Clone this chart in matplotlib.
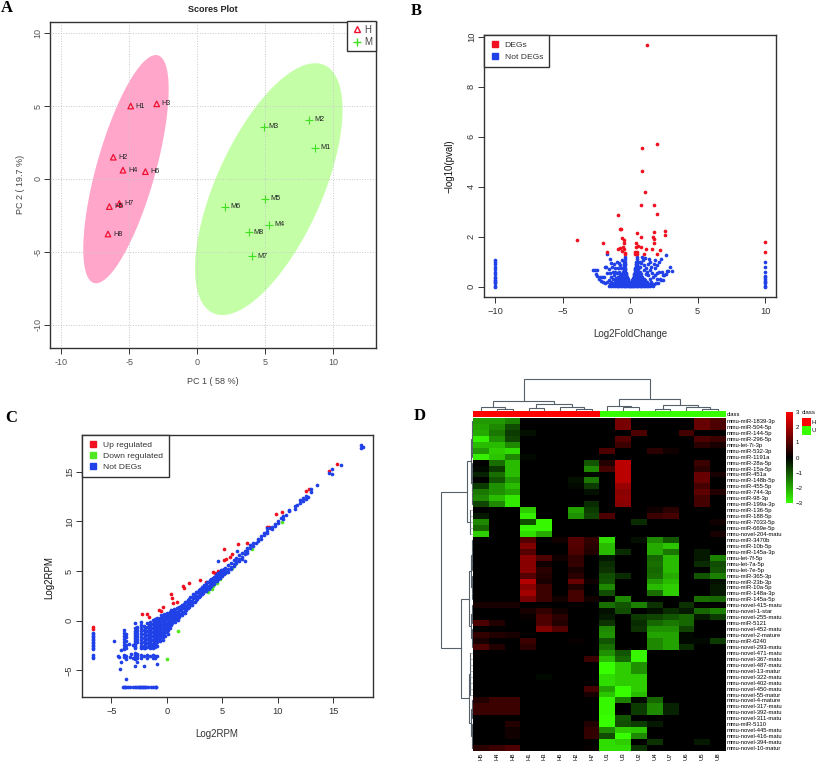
import matplotlib

matplotlib.use("Agg")
import matplotlib.pyplot as plt
import numpy as np
from matplotlib.colors import LinearSegmentedColormap
from matplotlib.lines import Line2D
from matplotlib.patches import Rectangle

plt.rcParams["font.family"] = ["Liberation Sans", "DejaVu Sans"]

FIG_W = 817
FIG_H = 761
AXIS_COLOR = "#333333"

# panel A
H_NAMES = ["H1", "H2", "H3", "H4", "H5", "H6", "H7", "H8"]
H_X = [-4.9, -6.18, -2.99, -5.47, -6.47, -3.82, -5.74, -6.57]
H_Y = [5.0, 1.49, 5.15, 0.6, -1.9, 0.5, -1.69, -3.78]
M_NAMES = ["M1", "M2", "M3", "M4", "M5", "M6", "M7", "M8"]
M_X = [8.65, 8.24, 4.88, 5.29, 5.0, 2.06, 4.04, 3.77]
M_Y = [2.15, 4.07, 3.57, -3.16, -1.37, -1.9, -5.29, -3.66]
# centre x, centre y, half width, half height, correlation
H_ELLIPSE = [-5.25, 0.67, 3.14, 7.83, 0.70]
M_ELLIPSE = [5.25, -0.7, 5.42, 8.64, 0.63]

# panel B
VOLCANO_RED = [
    (1.24, 9.67), (2.0, 5.71), (0.84, 5.56), (0.87, 4.61), (1.06, 3.8), (0.77, 3.25), (1.73, 3.25),
    (1.98, 2.92), (-0.92, 2.87), (-0.79, 2.29), (-0.69, 2.29), (0.47, 2.15), (1.76, 2.19), (2.6, 2.24),
    (2.57, 2.08), (0.77, 1.97), (1.71, 1.97), (1.73, 1.92), (-3.94, 1.85), (-2.0, 1.76), (-0.62, 1.93),
    (-0.5, 1.85), (1.78, 1.76), (0.42, 1.73), (10, 1.79), (10, 1.39), (-1.73, 1.37), (-0.5, 1.73),
    (0.54, 1.64), (0.79, 1.59), (0.4, 1.57), (-0.52, 1.6), (-0.77, 1.53), (-0.89, 1.52), (-0.47, 1.52),
    (1.19, 1.52), (1.58, 1.49), (2.23, 1.47), (-0.64, 1.44), (-0.42, 1.36), (0.35, 1.4), (0.52, 1.37),
    (1.96, 1.29), (0.99, 1.29), (0.35, 1.31), (0.52, 1.31), (-0.4, 1.29),
]
VOLCANO_CORE = {
    0.02: [-1.6, -1.45, -1.3, -1.15, -1.0, -0.9, -0.8, -0.7, -0.6, -0.5, -0.4, -0.3, -0.2, -0.1, -0.03, 0.03, 0.1,
           0.2, 0.3, 0.4, 0.5, 0.6, 0.7, 0.8, 0.9, 1.0, 1.1, 1.25, 1.35, 1.5, 1.65],
    0.06: [-1.35, -1.2, -1.05, -0.9, -0.75, -0.6, -0.45, -0.3, -0.15, -0.05, 0.05, 0.15, 0.3, 0.45, 0.6, 0.75, 0.9,
           1.05, 1.2, 1.4, 1.55],
    0.1: [-1.3, -1.1, -0.95, -0.85, -0.75, -0.65, -0.55, -0.45, -0.35, -0.25, -0.15, -0.07, 0.07, 0.15, 0.25, 0.35,
          0.45, 0.55, 0.65, 0.75, 0.85, 0.95, 1.1, 1.3, 1.5],
    0.15: [-1.2, -1.0, -0.8, -0.65, -0.5, -0.38, -0.27, -0.18, -0.1, 0.1, 0.18, 0.27, 0.38, 0.5, 0.65, 0.8, 1.0, 1.25],
    0.2: [-1.1, -0.9, -0.8, -0.7, -0.6, -0.5, -0.4, -0.3, -0.2, -0.13, 0.13, 0.2, 0.3, 0.4, 0.5, 0.6, 0.7, 0.8, 0.95,
          1.1, 1.25],
    0.25: [-1.05, -0.85, -0.68, -0.55, -0.42, -0.32, -0.24, -0.16, 0.16, 0.24, 0.32, 0.42, 0.55, 0.68, 0.85, 1.1],
    0.3: [-1.0, -0.8, -0.65, -0.55, -0.45, -0.35, -0.27, -0.2, 0.2, 0.27, 0.35, 0.45, 0.55, 0.7, 0.9, 1.05],
    0.35: [-0.85, -0.6, -0.47, -0.38, -0.3, -0.23, 0.23, 0.3, 0.38, 0.47, 0.6, 0.8],
    0.4: [-0.9, -0.6, -0.5, -0.42, -0.35, -0.27, 0.27, 0.35, 0.42, 0.5, 0.65, 0.85],
    0.45: [-0.55, -0.45, -0.37, -0.3, 0.29, 0.36, 0.44, 0.55, 0.72],
    0.5: [-0.7, -0.5, -0.42, -0.35, 0.3, 0.38, 0.45, 0.55, 0.8],
    0.55: [-0.5, -0.42, -0.35, 0.32, 0.4, 0.48, 0.62],
    0.6: [-0.55, -0.45, -0.38, 0.33, 0.4, 0.5, 0.7],
    0.65: [-0.48, -0.4, 0.35, 0.43, 0.52],
    0.7: [-0.5, -0.42, 0.37, 0.45, 0.6],
    0.75: [-0.47, -0.4, 0.38, 0.46],
    0.8: [-0.5, -0.45, 0.4, 0.5, 0.65],
    0.85: [-0.46, -0.41, 0.42, 0.48],
    0.9: [-0.48, -0.42, 0.43, 0.5],
    1.0: [-0.45, -0.4, 0.45, 0.55],
    1.1: [-0.42, 0.5],
    1.2: [-0.42, 0.48],
}
VOLCANO_SCATTER = [
    (-2.75, 0.65), (-2.65, 0.65), (-2.55, 0.5), (-2.45, 0.65), (-2.5, 0.42), (-2.35, 0.3), (-2.25, 0.38),
    (-2.1, 0.38), (-2.0, 0.2), (-2.2, 0.22), (-1.95, 0.38), (-1.9, 0.78), (-1.8, 0.78), (-1.7, 0.55),
    (-1.6, 0.25), (-1.5, 0.12), (-1.7, 0.18), (-1.45, 0.4), (-1.5, 1.1), (-1.45, 0.95), (-1.35, 0.8),
    (-1.3, 0.6), (-1.7, 1.3), (-1.55, 0.7), (-1.2, 0.45), (-1.1, 0.75), (-1.2, 0.9), (-1.0, 1.0),
    (-0.95, 0.55), (-0.8, 0.95), (-0.7, 0.75), (-0.6, 1.05), (-1.3, 0.3), (-1.4, 0.2), (-1.1, 0.6),
    (-0.85, 0.6), (-0.75, 0.45), (2.98, 0.77), (3.1, 0.62), (2.8, 0.62), (2.7, 0.62), (2.62, 0.5),
    (2.5, 0.45), (2.4, 0.45), (2.45, 0.28), (2.3, 0.28), (2.2, 0.3), (2.65, 1.25), (2.25, 1.1), (2.15, 1.0),
    (2.0, 0.85), (1.95, 0.55), (1.85, 0.75), (1.8, 1.05), (1.75, 0.9), (1.7, 0.4), (1.6, 0.55), (1.55, 0.8),
    (1.5, 1.0), (1.4, 1.1), (1.3, 0.9), (1.2, 0.75), (1.1, 1.15), (1.05, 0.65), (0.95, 1.05), (0.85, 1.2),
    (0.75, 0.8), (1.35, 0.45), (1.9, 0.15), (2.05, 0.15), (1.75, 0.12), (1.55, 0.2), (1.45, 0.3), (1.15, 0.5),
    (1.95, 0.3), (1.6, 0.12), (0.7, 1.0), (0.8, 0.95), (1.0, 0.85), (1.25, 0.6), (-0.75, 0.85), (-0.9, 0.75),
    (-1.05, 0.35), (-1.5, 0.55), (-1.85, 0.15), (1.85, 0.45), (1.5, 0.65), (2.1, 0.6), (2.35, 0.6),
]
VOLCANO_LEFT_Y = [0, 0.03, 0.13, 0.18, 0.22, 0.28, 0.33, 0.38, 0.5, 0.6, 0.7, 0.8, 0.9, 1.0, 1.05]
VOLCANO_RIGHT_Y = [0, 0.02, 0.13, 0.18, 0.22, 0.3, 0.38, 0.42, 0.6, 0.8, 1.0]

# panel C
RPM_RED = [
    (-6.65, -0.6), (-6.65, -0.8), (-2.28, 0.64), (-1.83, 0.7), (-1.62, 0.37), (-0.75, 1.04), (-0.54, 0.97),
    (-0.33, 1.38), (0.33, 2.68), (0.48, 2.25), (0.57, 1.81), (0.9, 1.91), (1.41, 3.49), (1.56, 3.29),
    (1.98, 3.79), (3.0, 4.09), (3.48, 3.93), (4.17, 4.93), (4.32, 4.77), (4.62, 5.03), (5.17, 7.25),
    (5.17, 6.07), (5.35, 6.17), (5.71, 6.38), (5.89, 6.68), (6.37, 7.68), (7.24, 7.82), (8.98, 9.46),
    (9.22, 9.46), (9.85, 10.77), (10.39, 10.94), (12.49, 13.05), (12.79, 13.29), (14.62, 15.03), (15.29, 15.77),
]
RPM_GREEN = [
    (0.96, -1.04), (0.03, -3.83), (3.66, 2.85), (4.05, 3.15), (4.17, 3.49), (4.53, 3.83), (4.77, 4.23),
    (5.37, 4.93), (5.83, 5.27), (6.13, 5.67), (7.69, 7.21), (10.39, 9.93),
]
RPM_COLUMNS = {
    -6.65: [-1.2, -1.35, -1.5, -1.65, -1.8, -1.95, -2.1, -2.25, -2.4, -2.55, -2.7, -2.85, -3.5, -3.65, -3.8],
    -3.85: [-0.9, -1.2, -1.5, -1.8, -2.1, -2.4, -2.7, -2.9, -3.5, -3.7],
    -3.7: [-1.3, -1.6, -2.0, -2.4, -2.8, -3.6, -3.9, -5.9],
    -2.85: [-0.2, -0.7, -1.0, -1.2, -1.4, -1.6, -1.8, -2.0, -2.2, -2.4, -2.6, -2.8, -3.3, -3.5, -3.7, -3.85, -4.6],
    -2.7: [-0.6, -0.9, -1.2, -1.5, -1.8, -2.1, -3.4, -3.6, -3.8, -4.2],
    -2.3: [-0.1, -0.4, -0.7, -1.0, -1.3, -1.6, -1.9, -2.2, -2.5, -2.8, -3.5, -3.8],
    -2.1: [-0.5, -0.9, -1.3, -1.7, -2.1, -2.5, -2.8, -3.6, -4.6],
    -1.95: [-0.7, -1.1, -1.5, -1.9, -2.3, -2.7],
    -1.8: [-0.2, -0.6, -1.0, -1.4, -1.8, -2.2, -2.6, -3.5, -3.8],
    -1.65: [-0.4, -0.8, -1.2, -1.6, -2.0, -2.4],
    -1.55: [-0.1, -0.5, -0.9, -1.3, -1.7, -2.1, -2.5, -2.8, -3.6],
    -1.42: [-0.3, -0.7, -1.1, -1.5, -1.9, -2.3, -2.6],
    -1.3: [0.1, -0.3, -0.7, -1.1, -1.5, -1.9, -2.3, -2.7, -3.5, -3.8],
    -1.2: [-0.1, -0.5, -0.9, -1.3, -1.7, -2.1, -2.5],
    -1.1: [0.2, -0.2, -0.6, -1.0, -1.4, -1.8, -2.2, -2.6, -3.6, -3.8],
    -1.0: [0.0, -0.4, -0.8, -1.2, -1.6, -2.0, -2.4],
    -0.9: [0.3, -0.1, -0.5, -0.9, -1.3, -1.7, -2.1, -2.5, -3.6, -4.4],
    -0.78: [0.1, -0.3, -0.7, -1.1, -1.5, -1.9],
    -0.65: [0.3, -0.1, -0.5, -0.9, -1.3, -1.7, -2.0],
    -0.52: [0.6, 0.2, -0.3, -0.7, -1.1, -1.5],
    -0.4: [0.4, 0.0, -0.4, -0.8, -1.2, -1.6, -1.9],
    -0.27: [0.7, 0.3, -0.2, -0.6, -1.0, -1.4],
    -0.15: [0.5, 0.1, -0.3, -0.7, -1.1, -1.5],
    0.0: [0.8, 0.5, 0.2, -0.2, -0.5, -0.8, -1.1],
    0.1: [0.7, 0.3, -0.1, -0.5, -0.9, -1.3],
    0.25: [0.9, 0.5, 0.1, -0.3, -0.7],
    0.38: [1.1, 0.7, 0.4, 0.0, -0.4],
    0.5: [1.0, 0.6, 0.2, -0.2],
    0.62: [1.2, 0.8, 0.4, 0.1],
    0.75: [1.0, 0.6, 0.3, -0.1],
    0.88: [1.3, 0.9, 0.6, 0.2],
    1.0: [1.3, 0.9, 0.5, 0.1],
    1.12: [1.4, 1.1, 0.7, 0.4],
    1.25: [1.5, 1.1, 0.7],
    1.38: [1.6, 1.3, 0.9, 0.6],
    1.5: [1.7, 1.3, 0.9],
    1.62: [1.9, 1.5, 1.2, 0.8],
    1.75: [1.9, 1.5, 1.1],
    1.88: [2.1, 1.7, 1.3],
    2.0: [2.2, 1.8, 1.4],
    2.12: [2.4, 2.0, 1.7],
    2.25: [2.4, 2.0, 1.6],
    2.38: [2.7, 2.3, 1.9],
    2.5: [2.6, 2.3, 1.9],
    2.62: [2.9, 2.5, 2.1],
    2.75: [2.9, 2.5, 2.2],
    2.88: [3.1, 2.8, 2.4],
    3.0: [3.2, 2.9, 2.5],
    3.12: [3.4, 3.0, 2.7],
    3.25: [3.4, 3.1, 2.8],
    3.38: [3.6, 3.3, 3.0],
    3.5: [3.7, 3.3, 3.0],
    3.62: [3.9, 3.5, 3.2],
    3.75: [3.9, 3.5, 3.2],
    3.88: [4.1, 3.8, 3.4],
    4.0: [4.2, 3.8, 3.5],
    4.12: [4.3, 4.0, 3.7],
    4.25: [4.4, 4.0, 3.7],
    4.38: [4.6, 4.3, 4.0],
    4.5: [4.7, 4.3, 4.0],
    4.62: [4.8, 4.5, 4.2],
    4.75: [4.9, 4.6, 4.3],
    4.88: [5.1, 4.8, 4.5],
    5.0: [5.1, 4.8, 4.5],
    5.12: [5.2, 4.9, 4.7],
    5.25: [5.3, 5.0, 4.8],
    5.5: [5.6, 5.2, 4.9],
    5.75: [5.8, 5.4, 5.2],
    6.0: [6.1, 5.7, 5.5],
    6.25: [6.3, 6.0, 5.8],
    6.5: [6.6, 6.2, 6.0],
    6.75: [6.8, 6.4, 6.2],
    7.0: [7.0, 6.7, 6.0],
    7.25: [7.3, 7.0, 6.8],
    7.5: [7.6, 7.3],
    7.75: [7.8, 7.5],
    8.0: [7.8],
    8.25: [8.2, 8.0],
    8.5: [8.5, 8.2],
    8.75: [8.8, 8.6],
    9.0: [9.3, 9.0, 8.8],
    9.25: [9.3],
    9.5: [9.4, 9.2],
    9.75: [9.5, 9.7],
    10.0: [10.0, 9.8],
    10.25: [10.3],
    10.5: [10.5, 10.2],
    10.75: [10.6],
    11.0: [11.0, 11.1],
    11.5: [11.5, 11.2],
    11.75: [11.6],
    12.0: [12.1, 11.8],
    12.25: [12.3, 12.0],
    12.5: [12.5, 12.2],
    12.75: [12.4],
    13.0: [13.2, 12.9],
    13.5: [13.6],
    14.6: [14.85],
    14.85: [15.25, 14.8],
    15.65: [15.65],
    17.45: [17.7, 17.35],
    17.66: [17.5],
}
RPM_ISOLATED = [
    (-4.8, -2.07), (-4.4, -3.55), (-4.35, -3.7), (-4.15, -4.15), (-4.2, -4.9), (-4.1, -3.0), (-3.4, -2.3),
    (-3.3, -3.65), (-3.2, -3.4), (-3.1, -2.4), (-3.1, -3.8), (4.6, 5.97), (6.35, 7.0),
]
RPM_FLOOR_Y = -6.7
RPM_FLOOR_X = [-3.95, -3.85, -3.75, -3.65, -3.5, -3.35, -3.1, -2.9, -2.75, -2.65, -2.55, -2.45, -2.35, -2.25,
               -2.15, -2.05, -1.95, -1.85, -1.75, -1.45, -1.3, -1.1, -1.0, -0.95]

# panel D
HEAT_COLUMNS = ["H5", "H4", "H8", "H1", "H3", "H6", "H2", "H7", "U1", "U3", "U2", "U4", "U7", "U6", "U5", "U8"]
HEAT_ROWS = [
    "mmu-miR-1839-3p", "mmu-miR-504-5p", "mmu-miR-144-5p", "mmu-miR-296-5p", "mmu-let-7i-3p", "mmu-miR-532-3p",
    "mmu-miR-1191a", "mmu-miR-28a-5p", "mmu-miR-15a-5p", "mmu-miR-451a", "mmu-miR-148b-5p", "mmu-miR-455-5p",
    "mmu-miR-744-3p", "mmu-miR-98-3p", "mmu-miR-199a-3p", "mmu-miR-136-5p", "mmu-miR-188-5p", "mmu-miR-7033-5p",
    "mmu-miR-669e-5p", "mmu-novel-204-matu", "mmu-miR-3470b", "mmu-miR-10b-5p", "mmu-miR-145a-3p", "mmu-let-7f-5p",
    "mmu-let-7a-5p", "mmu-let-7e-5p", "mmu-miR-365-3p", "mmu-miR-23b-3p", "mmu-miR-10a-5p", "mmu-miR-148a-3p",
    "mmu-miR-145a-5p", "mmu-novel-415-matu", "mmu-novel-1-star", "mmu-novel-255-matu", "mmu-miR-5121",
    "mmu-novel-452-matu", "mmu-novel-2-mature", "mmu-miR-6240", "mmu-novel-293-matu", "mmu-novel-471-matu",
    "mmu-novel-367-matu", "mmu-novel-487-matu", "mmu-novel-13-matur", "mmu-novel-322-matu", "mmu-novel-402-matu",
    "mmu-novel-450-matu", "mmu-novel-55-matur", "mmu-novel-4-mature", "mmu-novel-317-matu", "mmu-novel-392-matu",
    "mmu-novel-311-matu", "mmu-miR-5110", "mmu-novel-445-matu", "mmu-novel-416-matu", "mmu-novel-394-matu",
    "mmu-novel-10-matur",
]
HEAT_VALUES = [
    [-1.8, -1.8, -1.5, 0, 0, 0, 0, 0, 0, 1.4, 0, 0, 0, 0, 1.2, 0.9],
    [-1.9, -1.6, -0.9, 0, 0, 0, 0, 0, 0, 1.4, 0, 0, 0, 0, 1.2, 0.9],
    [-2.0, -1.4, -0.7, -0.2, 0, 0, 0, 0, 0, 0, 0.9, 0, 0, 0.8, 0, 0],
    [-2.8, -1.7, -0.8, 0, 0, 0, 0, 0, 0, 1.0, 0, 0, 0, 0, 0.9, 0.7],
    [-2.2, -2.2, -1.6, 0, 0, 0, 0, 0, 0, 0.7, 0, 0, 0, 0, 0.5, 0.3],
    [-1.8, -2.4, -2.6, 0, 0, 0, 0, 0, 0.9, 0, 0, 0.5, 0.2, 0, 0, 0],
    [-2.8, -2.3, -1.6, -0.1, 0, 0, 0, 0, 0, 0, 0, 0, 0, 0, 0, 0],
    [0, -1.3, -2.2, 0, 0, 0, 0, -1.0, 0.4, 2.2, 0, 0, 0, 0, 0.7, 0],
    [-0.1, -0.7, -2.2, 0, 0, 0, 0, -1.6, 0.8, 2.2, 0, 0, 0, 0, 0.5, 0],
    [-0.4, -1.3, -2.2, 0, 0, 0, 0, -0.1, 0, 2.2, 0, 0, 0, 0, 1.2, 0.3],
    [0, -1.0, -1.8, 0, 0, 0, -0.2, -1.4, 0, 2.2, 0, 0, 0, 0, 1.2, 0],
    [-0.7, -1.7, -2.2, 0, 0, 0, -0.1, -0.7, 0, 1.8, 0, 0, 0, 0, 0.8, 0],
    [-1.4, -1.7, -1.9, 0, 0, 0, 0, -0.2, 0, 1.6, 0, 0, 0, 0, 1.1, 0.4],
    [-1.6, -2.2, -2.7, 0, 0, 0, 0, 0, 0, 1.7, 0, 0, 0, 0, 0.8, 0],
    [-0.8, -1.6, -2.7, 0, 0, 0, 0, -0.5, 0, 1.6, 0, 0, 0, 0, 0.8, 0],
    [0, 0, 0, -2.4, 0, 0, -1.9, -0.7, 0, 0, 0, 0.2, 0.5, 0, 0, 0],
    [-0.3, 0, 0, -2.8, 0, 0, -1.7, -0.8, 0.9, 0, 0, 0.7, 0.8, 0, 0, 0],
    [-1.6, 0, 0, -0.9, -2.9, 0, 0, 0, 0, 0, -0.5, 0, 0, 0, 0, 0.2],
    [-1.2, 0, 0, -2.9, -2.9, 0, 0, 0, 0, 0, 0, 0, 0, 0, 0, 0],
    [-2.4, 0, 0, -2.6, -2.0, 0, 0, 0, 0, 0, 0, 0, 0, 0, 0, 0.3],
    [0, 0, 0, 1.0, 0, 0.2, 1.0, 0.6, -2.6, 0, -0.2, -1.6, -1.0, 0, 0, 0],
    [0, 0, 0, 1.5, 0, 0, 1.0, 0.5, -2.2, 0, 0, -2.0, -2.3, 0, 0, 0],
    [0, 0, 0, 1.0, 0, 0, 0.9, 0.4, -2.2, -0.5, 0, -2.0, -1.4, 0, -0.3, 0],
    [0, 0, 0, 1.6, 0.9, 0.2, 0.6, 0, -0.3, 0, 0, -1.2, -2.2, 0, -0.3, -1.5],
    [0, 0, 0, 1.6, 0.2, 0, 0.6, 0, -0.5, 0, 0, -1.3, -2.2, 0, -0.5, -0.9],
    [0, 0, 0, 1.6, 0.5, 0, 0.3, 0, -0.6, 0, 0, -1.2, -2.2, 0, 0, -1.0],
    [0, 0, 0, 1.0, 0.4, 0, 0.5, 0, -0.9, -0.5, 0, -1.3, -2.0, 0, -1.0, -1.5],
    [0, 0, 0, 2.1, 0.3, 0, 1.2, 0.2, -1.0, 0, 0, -1.8, -2.2, 0, 0, -0.2],
    [0, 0, 0, 1.6, 0.7, 0, 0.4, 0, -1.6, 0, 0, -2.2, -2.4, 0, 0, -0.3],
    [0, 0, 0, 1.9, 0.7, 0, 0.8, 0, -0.9, 0, 0, -1.3, -2.4, 0, 0, -0.3],
    [0, 0, 0, 1.4, 0.7, 0.2, 0.8, 0.2, 0, -1.6, 0, 0, 0, 0, -1.3, -1.2],
    [0.3, 0.3, 0.3, 0, 0, 0, 0, 0, -1.3, -1.0, -1.5, -0.6, 0, -0.6, 0, 0],
    [0, 0, 0, 0.3, 0.6, 0.2, 0, 0, -0.2, -0.9, 0, -0.2, -0.5, -0.3, -1.2, -1.5],
    [0, 0, 0, 0.1, 0.9, 0.5, 0, 0, -0.3, 0, -0.7, -0.8, -1.0, -1.2, -0.3, -0.7],
    [0.9, 0.4, 0, 0, 0.9, 0.4, 0, 0, -0.6, 0, -0.5, -1.2, -1.4, -1.2, 0, 0],
    [0, 0, 0, 0, 1.5, 1.0, 0, 0, -1.6, 0, -0.6, -1.7, -1.7, -0.8, 0, 0],
    [0.6, 0.4, 0.3, 0, 0, 0, 0, 0, -1.7, 0, 0, -1.9, -1.9, -0.1, 0, 0],
    [0.3, 0, 0, 0.7, 0, 0, 0.1, 0, -1.0, 0, 0, -1.6, -1.9, -0.1, -0.1, -0.7],
    [0.9, 0.4, 0, 0.5, 0, 0, 0, 0, -1.3, 0, 0, -1.6, -1.9, -0.5, 0, 0],
    [0, 0, 0, 0, 0, 0, 0, 0, -1.7, -1.0, -2.9, 0, 0, 0, 0, 0],
    [0, 0, 0, 0, 0, 0, 0, 0.7, -2.2, -1.2, -2.9, 0, 0, 0, 0, 0],
    [0, 0, 0, 0, 0, 0, 0, 0, -3.0, -2.4, -1.7, 0, 0, 0, 0, 0],
    [0, 0, 0, 0, 0, 0, 0, 0, -3.0, -2.4, -1.7, 0, 0, 0, 0, 0],
    [0, 0, 0, 0, -0.1, 0, 0, 0, -2.6, -2.4, -2.4, 0, 0, 0, 0, 0],
    [0, 0, 0, 0, 0, 0, 0, 0, -2.6, -2.4, -2.4, 0, 0, 0, 0, 0],
    [0, 0, 0, 0, 0, 0, 0, 0.8, -1.9, -3.0, -2.4, 0, 0, 0, 0, 0],
    [0, 0, 0, 0, 0, 0, 0, 0.3, -2.3, -3.0, -2.2, 0, 0, 0, 0, 0],
    [0.4, 0.7, 0.7, 0, 0, 0, 0, 0, -2.9, -1.5, -0.1, -1.2, 0, 0, 0, 0],
    [0.7, 0.7, 0.7, 0, 0, 0, 0, 0, -2.9, 0, -0.7, -1.6, -0.4, 0, 0, 0],
    [0.7, 0.7, 0.7, 0, 0, 0, 0, 0, -2.9, 0, -0.7, -1.6, -0.4, 0, 0, 0],
    [0, 0, 0, 0, 0, 0, 0, 0, -3.0, -1.0, 0, 0, 0, 0, 0, 0],
    [0, 0, 0.4, 0, 0, 0, 0, 0.4, -3.0, -0.9, -0.7, -0.3, 0, 0, 0, 0],
    [0, 0, 0.2, 0, 0, 0, 0, 0.6, -1.6, -2.4, -2.3, 0, 0, 0, 0, 0],
    [0, 0, 0.2, 0, 0, 0, 0, 0.6, -0.9, -3.0, -1.6, 0, 0, 0, 0, 0],
    [0, 0, 0, 0, 0, 0, 0, 0, -2.6, -2.4, 0, -0.6, 0, 0, -0.3, 0],
    [0.5, 0.7, 0.9, 0, 0, 0, 0, 0.1, -2.6, -2.6, -0.6, 0, 0, 0, 0, 0],
]
# merges as (height in px, left, right); plain ints are leaves
COLUMN_TREE = (32.3,
               (10.3,
                (4, 0, (1.7, 1, 2)),
                (7, (3, 3, 4), (3.7, 5, (1.7, 6, 7)))),
               (12,
                (5, 8, (4, 9, 10)),
                (6, (1.7, 11, 12), (4, 13, (2, 14, 15)))))
ROW_CLUSTERS = [(0, 6), (7, 14), (15, 19), (20, 25), (26, 30), (31, 34), (35, 38), (39, 46), (47, 50), (51, 55)]
ROW_CLUSTER_HEIGHTS = [1.2, 1.0, 3.0, 1.2, 1.0, 1.0, 1.0, 3.0, 1.2, 1.0]
ROW_TREE = (32.7,
            (6.7, (2.6, 0, 1), 2),
            (12.3,
             (4, (2, 3, 4), (2, 5, 6)),
             (4, 7, (2, 8, 9))))


def add_axes_px(fig, left, top, right, bottom, **kwargs):
    return fig.add_axes(
        [left / FIG_W, 1 - bottom / FIG_H, (right - left) / FIG_W, (bottom - top) / FIG_H], **kwargs
    )


def style_r_axes(ax, tick_size=6.7, pad=2):
    for spine in ax.spines.values():
        spine.set_color(AXIS_COLOR)
        spine.set_linewidth(1.0)
    ax.tick_params(colors=AXIS_COLOR, labelsize=tick_size, length=4, width=0.7)
    ax.tick_params(axis="y", pad=pad)
    for label in ax.get_yticklabels():
        label.set_rotation(90)
        label.set_va("center")


def panel_letter(fig, letter, x, y):
    fig.text(x / FIG_W, 1 - y / FIG_H, letter, family="Liberation Serif", fontweight="bold",
             fontsize=12, ha="center", va="center", color="black")


def ellipse_outline(params):
    cx, cy, sx, sy, corr = params
    t = np.linspace(0, 2 * np.pi, 200)
    phi = np.arccos(corr)
    return cx + sx * np.cos(t), cy + sy * np.cos(t - phi)


def draw_scores_plot(fig):
    ax = add_axes_px(fig, 49.5, 21.5, 376, 348)
    ax.set_xlim(-10.87, 13.13)
    ax.set_ylim(-11.6, 10.8)

    ax.fill(*ellipse_outline(H_ELLIPSE), color="#FFA6CA", lw=0, zorder=1)
    ax.fill(*ellipse_outline(M_ELLIPSE), color="#C4FFA8", lw=0, zorder=1)
    ax.grid(True, color="#C8C8C8", linestyle=":", linewidth=0.7, zorder=2)
    ax.set_axisbelow(False)

    ax.scatter(H_X, H_Y, marker="^", s=16, facecolors="none", edgecolors="#F01030", linewidths=0.9, zorder=3)
    ax.scatter(M_X, M_Y, marker="+", s=26, color="#40E020", linewidths=0.8, zorder=3)
    for name, x, y in zip(H_NAMES + M_NAMES, H_X + M_X, H_Y + M_Y):
        ax.annotate(name, (x, y), xytext=(3.6, 0), textcoords="offset points", fontsize=5.2,
                    va="center", color="#222222", zorder=4)

    ticks = [-10, -5, 0, 5, 10]
    tick_labels = ["-10", "-5", "0", "5", "10"]
    ax.set_xticks(ticks, tick_labels)
    ax.set_yticks(ticks, tick_labels)
    style_r_axes(ax, tick_size=6.5, pad=1)
    ax.tick_params(labelcolor="#555555")
    ax.set_title("Scores Plot", fontsize=6.5, fontweight="bold", pad=7, color="#222222")
    ax.set_xlabel("PC 1 ( 58 %)", fontsize=6.5, color="#444444", labelpad=7)
    ax.set_ylabel("PC 2 ( 19.7 %)", fontsize=6.5, color="#444444", labelpad=6)

    handles = [
        Line2D([], [], marker="^", markersize=4.5, markerfacecolor="none", markeredgecolor="#F01030",
               linestyle="none", label="H"),
        Line2D([], [], marker="+", markersize=5.5, color="#40E020", linestyle="none", label="M"),
    ]
    ax.legend(handles=handles, loc="upper right", fontsize=7, borderaxespad=0, fancybox=False, framealpha=1,
              edgecolor=AXIS_COLOR, handletextpad=0.1, handlelength=1.4, borderpad=0.35, labelspacing=0.25,
              labelcolor="#444444")


def draw_volcano(fig):
    ax = add_axes_px(fig, 484.3, 35.3, 775.7, 296.7)
    ax.set_xlim(-10.83, 10.79)
    ax.set_ylim(-0.4, 10.05)

    core_x = [x for xs in VOLCANO_CORE.values() for x in xs]
    core_y = [y for y, xs in VOLCANO_CORE.items() for _ in xs]
    scatter_x, scatter_y = zip(*VOLCANO_SCATTER)
    red_x, red_y = zip(*VOLCANO_RED)
    blue = "#2040E8"
    ax.scatter(core_x + list(scatter_x), core_y + list(scatter_y), s=7, color=blue, lw=0, zorder=3)
    ax.scatter([-10] * len(VOLCANO_LEFT_Y), VOLCANO_LEFT_Y, s=7, color=blue, lw=0, zorder=3)
    ax.scatter([10] * len(VOLCANO_RIGHT_Y), VOLCANO_RIGHT_Y, s=7, color=blue, lw=0, zorder=3)
    ax.scatter(red_x, red_y, s=7, color="#F01020", lw=0, zorder=3)

    ax.set_xticks([-10, -5, 0, 5, 10])
    ax.set_yticks([0, 2, 4, 6, 8, 10])
    style_r_axes(ax)
    ax.set_xlabel("Log2FoldChange", fontsize=7, color="#333333", labelpad=9)
    ax.set_ylabel("\u2212log10(pval)", fontsize=7, color="#111111", labelpad=9)

    handles = [
        Line2D([], [], marker="s", markersize=4.8, color="#F01020", linestyle="none", label="DEGs"),
        Line2D([], [], marker="s", markersize=4.8, color=blue, linestyle="none", label="Not DEGs"),
    ]
    ax.legend(handles=handles, loc="upper left", fontsize=6.1, borderaxespad=0, fancybox=False, framealpha=1,
              edgecolor=AXIS_COLOR, handletextpad=0.5, handlelength=1.2, borderpad=0.7, labelspacing=0.45,
              labelcolor="#333333")


def draw_rpm_scatter(fig):
    ax = add_axes_px(fig, 82.3, 435.3, 373.3, 696.7)
    ax.set_xlim(-7.63, 18.6)
    ax.set_ylim(-7.65, 18.65)

    blue_x = [x for x, ys in RPM_COLUMNS.items() for _ in ys] + [p[0] for p in RPM_ISOLATED] + RPM_FLOOR_X
    blue_y = [y for ys in RPM_COLUMNS.values() for y in ys] + [p[1] for p in RPM_ISOLATED]
    blue_y += [RPM_FLOOR_Y] * len(RPM_FLOOR_X)
    red_x, red_y = zip(*RPM_RED)
    green_x, green_y = zip(*RPM_GREEN)
    ax.scatter(red_x, red_y, s=7, color="#F01020", lw=0, zorder=3)
    ax.scatter(green_x, green_y, s=7, color="#50E820", lw=0, zorder=3)
    ax.scatter(blue_x, blue_y, s=7, color="#2040E8", lw=0, zorder=4)

    ax.set_xticks([-5, 0, 5, 10, 15])
    ax.set_yticks([-5, 0, 5, 10, 15])
    style_r_axes(ax)
    ax.set_xlabel("Log2RPM", fontsize=7, color="#333333", labelpad=9, x=0.462)
    ax.set_ylabel("Log2RPM", fontsize=7, color="#111111", labelpad=8, y=0.455)

    handles = [
        Line2D([], [], marker="s", markersize=4.8, color="#F01020", linestyle="none", label="Up regulated"),
        Line2D([], [], marker="s", markersize=4.8, color="#50E820", linestyle="none", label="Down regulated"),
        Line2D([], [], marker="s", markersize=4.8, color="#2040E8", linestyle="none", label="Not DEGs"),
    ]
    ax.legend(handles=handles, loc="upper left", fontsize=6.1, borderaxespad=0, fancybox=False, framealpha=1,
              edgecolor=AXIS_COLOR, handletextpad=0.5, handlelength=1.2, borderpad=0.7, labelspacing=0.35,
              labelcolor="#333333")


def draw_tree(ax, node, leaf_pos, horizontal):
    # returns the position of a node and its height so the parent can connect to it
    if isinstance(node, int):
        return leaf_pos[node]
    height, left, right = node
    p1, h1 = draw_tree(ax, left, leaf_pos, horizontal)
    p2, h2 = draw_tree(ax, right, leaf_pos, horizontal)
    if horizontal:
        ax.plot([h1, height, height, h2], [p1, p1, p2, p2], color="#55606A", lw=0.8, solid_joinstyle="miter")
    else:
        ax.plot([p1, p1, p2, p2], [h1, height, height, h2], color="#55606A", lw=0.8, solid_joinstyle="miter")
    return (p1 + p2) / 2, height


def draw_heatmap(fig):
    cmap = LinearSegmentedColormap.from_list("green_black_red", ["#38FF00", "#000000", "#FF0000"])
    ax = add_axes_px(fig, 473.3, 418, 725.7, 751)
    image = ax.imshow(np.array(HEAT_VALUES), cmap=cmap, vmin=-3, vmax=3, aspect="auto",
                      interpolation="nearest", extent=(0, len(HEAT_COLUMNS), len(HEAT_ROWS), 0))
    ax.yaxis.tick_right()
    ax.set_yticks(np.arange(len(HEAT_ROWS)) + 0.5, HEAT_ROWS)
    ax.set_xticks(np.arange(len(HEAT_COLUMNS)) + 0.5, HEAT_COLUMNS, rotation=90)
    ax.tick_params(length=0, pad=1, labelsize=4.2, colors="#000000")
    for spine in ax.spines.values():
        spine.set_visible(False)

    # class strip above the heatmap
    strip = add_axes_px(fig, 473.3, 411, 725.7, 417.3)
    strip.set_xlim(0, len(HEAT_COLUMNS))
    strip.set_ylim(0, 1)
    strip.add_patch(Rectangle((0, 0), 8, 1, color="#FF0000", lw=0))
    strip.add_patch(Rectangle((8, 0), 8, 1, color="#38FF00", lw=0))
    strip.axis("off")
    fig.text(726.7 / FIG_W, 1 - 414.5 / FIG_H, "class", fontsize=4.2, va="center", color="#000000")

    # column dendrogram
    top = add_axes_px(fig, 473.3, 375, 725.7, 411)
    top.set_xlim(0, len(HEAT_COLUMNS))
    top.set_ylim(0, 36)
    top.axis("off")
    column_leaves = [(i + 0.5, 0) for i in range(len(HEAT_COLUMNS))]
    draw_tree(top, COLUMN_TREE, column_leaves, horizontal=False)

    # row dendrogram
    side = add_axes_px(fig, 438, 418, 473.3, 751)
    side.set_xlim(35.3, 0)
    side.set_ylim(len(HEAT_ROWS), 0)
    side.axis("off")
    row_leaves = []
    for (first, last), height in zip(ROW_CLUSTERS, ROW_CLUSTER_HEIGHTS):
        side.plot([height, height], [first + 0.5, last + 0.5], color="#55606A", lw=0.8)
        for row in range(first, last + 1):
            side.plot([0, height], [row + 0.5, row + 0.5], color="#8A9098", lw=0.4)
        row_leaves.append(((first + last + 1) / 2, height))
    draw_tree(side, ROW_TREE, row_leaves, horizontal=True)

    # colour key
    key = add_axes_px(fig, 786, 411.7, 792.7, 503.3)
    bar = fig.colorbar(image, cax=key, ticks=[-3, -2, -1, 0, 1, 2, 3])
    bar.outline.set_visible(False)
    bar.ax.tick_params(length=0, pad=2, labelsize=4.4, colors="#111111")

    # class key
    fig.text(802 / FIG_W, 1 - 413 / FIG_H, "class", fontsize=4.4, va="center", color="#111111")
    legend_ax = add_axes_px(fig, 802, 417.7, 811, 435)
    legend_ax.set_xlim(0, 1)
    legend_ax.set_ylim(0, 2)
    legend_ax.add_patch(Rectangle((0, 1), 1, 1, color="#FF0000", lw=0))
    legend_ax.add_patch(Rectangle((0, 0), 1, 1, color="#38FF00", lw=0))
    legend_ax.axis("off")
    fig.text(812 / FIG_W, 1 - 422 / FIG_H, "H", fontsize=4.4, va="center", color="#111111")
    fig.text(812 / FIG_W, 1 - 430.5 / FIG_H, "U", fontsize=4.4, va="center", color="#111111")


def main():
    fig = plt.figure(figsize=(FIG_W / 100, FIG_H / 100), dpi=100, facecolor="white")
    draw_scores_plot(fig)
    draw_volcano(fig)
    draw_rpm_scatter(fig)
    draw_heatmap(fig)
    panel_letter(fig, "A", 7, 8.5)
    panel_letter(fig, "B", 416, 11)
    panel_letter(fig, "C", 11, 418)
    panel_letter(fig, "D", 420, 415.5)
    fig.savefig("out.png", dpi=100)
    plt.close(fig)


if __name__ == "__main__":
    main()
